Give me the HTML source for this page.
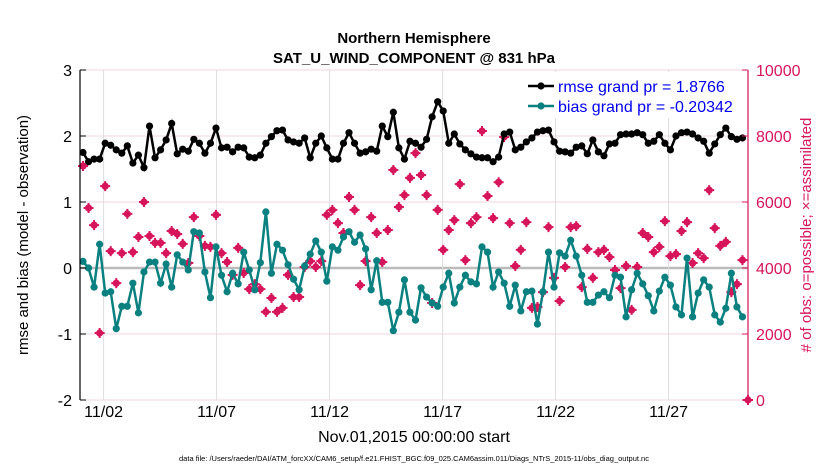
<!DOCTYPE html>
<html><head><meta charset="utf-8"><style>
body{margin:0;background:#fff;font-family:"Liberation Sans",sans-serif}
svg text{font-family:"Liberation Sans",sans-serif}
</style></head><body>
<svg id="chart" width="830" height="470" xmlns="http://www.w3.org/2000/svg">
<rect width="830" height="470" fill="#fff"/>
<g id="grid"></g><g id="marks"></g><g id="axes"></g>
</svg>
<script>
const rmse=[1.75,1.61,1.65,1.65,1.89,1.86,1.79,1.74,1.85,1.59,1.71,1.52,2.15,1.67,1.79,1.94,2.19,1.73,1.80,1.77,1.95,1.89,1.74,1.89,2.12,1.82,1.83,1.76,1.83,1.82,
1.68,1.67,1.71,1.89,1.99,2.08,2.09,1.94,1.91,1.89,1.97,1.67,1.89,2.0,1.82,1.65,1.65,1.89,2.05,1.89,1.74,1.76,1.80,1.77,2.15,1.99,2.36,1.82,1.65,1.92,
1.89,1.83,1.95,2.29,2.52,2.38,1.89,2.03,1.88,1.79,1.73,1.68,1.67,1.67,1.61,1.68,2.03,2.06,1.79,1.83,1.91,1.97,2.06,2.08,2.09,1.91,1.77,1.76,1.74,
1.83,1.85,1.73,1.94,1.76,1.70,1.88,1.89,2.02,2.03,2.03,2.05,2.02,1.89,1.92,2.02,1.89,1.79,2.0,2.05,2.06,2.03,1.97,1.92,1.74,1.88,2.02,2.12,1.99,1.95,1.97,null];
const bias=[0.10,0.0,-0.29,0.36,-0.38,-0.36,-0.92,-0.58,-0.58,-0.23,-0.68,-0.06,0.09,0.09,-0.23,0.06,-0.29,0.20,0.09,-0.03,0.55,0.53,-0.06,-0.45,0.32,-0.11,-0.36,-0.08,-0.24,0.24,
-0.03,-0.33,0.08,0.85,-0.08,0.36,0.27,0.05,-0.17,-0.33,0.03,0.21,0.41,0.24,-0.20,0.32,0.27,0.47,0.55,0.39,0.50,0.29,-0.33,0.11,-0.52,-0.52,-0.95,-0.67,-0.18,-0.67,
-0.79,-0.30,-0.44,-0.53,-0.58,-0.29,-0.08,-0.53,-0.29,-0.11,-0.21,-0.24,0.32,0.24,-0.29,-0.06,-0.23,-0.58,-0.26,-0.65,-0.36,-0.35,-0.85,-0.36,0.24,-0.29,0.23,0.18,0.42,
0.18,-0.11,-0.52,-0.52,-0.41,-0.36,-0.45,-0.11,-0.14,-0.74,-0.33,-0.08,-0.24,-0.42,-0.65,-0.35,-0.14,-0.26,-0.59,-0.71,0.15,-0.74,-0.38,-0.18,-0.29,-0.71,-0.82,-0.61,-0.08,-0.59,-0.74,null];
const nobs=[7090,5820,5300,2030,6480,4510,3540,4450,5640,4480,4940,6000,4970,4760,4760,4450,5120,5030,4730,4150,5540,4970,4670,4640,5610,4450,4180,3790,4610,3850,
3360,3510,3360,2670,3090,2670,2790,3790,3120,3120,4030,4210,4030,4210,5610,5760,5360,5060,6150,5760,3480,4210,5540,5060,4180,5150,6970,5850,6210,6730,
7480,6820,6210,2940,5760,4550,5150,5450,6540,4240,5360,5540,8150,6180,5510,6600,7970,5360,4060,4550,5390,2790,2820,3270,5240,3700,3000,4030,5240,
5270,3420,4580,3700,4480,4550,4330,3940,3390,4060,2730,4030,5060,4940,4480,4640,5420,4360,4420,5120,5390,4150,4450,4300,6360,5210,4670,4790,3270,3510,4240,0];
const leftTicks=[-2,-1,0,1,2,3];
const rightTicks=[0,2000,4000,6000,8000,10000];
const dateTicks=[1,6,11,16,21,26];
const dateLabels=["11/02","11/07","11/12","11/17","11/22","11/27"];

const NS="http://www.w3.org/2000/svg";
const L=80,R=748,T=70,B=400;
const yL=v=>B-(v+2)/5*(B-T);
const yR=v=>B-v/10000*(B-T);
const xDay=d=>81+d*22.6;
const xIdx=i=>83+i*(R-83)/(nobs.length-1);
function mk(tag,attrs,parent,text){const e=document.createElementNS(NS,tag);for(const k in attrs)e.setAttribute(k,attrs[k]);if(text!=null)e.textContent=text;parent.appendChild(e);return e;}
const grid=document.getElementById('grid'),marks=document.getElementById('marks'),axes=document.getElementById('axes');

leftTicks.forEach(v=>{
 const g=mk('line',{x1:L,x2:R,y1:yL(v),y2:yL(v),stroke:v===0?'#bbb':'#f2d5e0','stroke-width':v===0?2.5:1},grid);
 
 
 const t=mk('text',{x:L-8,y:yL(v)+6,'text-anchor':'end','font-size':16},axes,String(v));
 
 
 mk('line',{x1:L,x2:L+6,y1:yL(v),y2:yL(v),stroke:'#000'},axes);
});
rightTicks.forEach(v=>{
 const t=mk('text',{x:R+8,y:yR(v)+6,'font-size':16,fill:'#d6155a'},axes,String(v));
 
 
 mk('line',{x1:R-6,x2:R,y1:yR(v),y2:yR(v),stroke:'#d6155a'},axes);
});
dateTicks.forEach((d,i)=>{
 const g=mk('line',{x1:xDay(d),x2:xDay(d),y1:T,y2:B,stroke:'#ddd'},grid);
 
 
 const t=mk('text',{x:xDay(d),y:B+17,'text-anchor':'middle','font-size':16},axes,dateLabels[i]);
 
 
});
mk('line',{x1:L,x2:L,y1:T,y2:B,stroke:'#000','stroke-width':1.2},axes);
mk('line',{x1:R,x2:R,y1:T,y2:B,stroke:'#d6155a','stroke-width':1.2},axes);

// obs markers
nobs.forEach((v,i)=>{
 if(v==null)return;
 const g=mk('g',{},marks);
 
 
 const x=xIdx(i),y=yR(v);
 mk('circle',{cx:x,cy:y,r:3.6,fill:'#d6155a'},g);
 mk('path',{d:`M${x-5} ${y}H${x+5}M${x} ${y-5}V${y+5}`,stroke:'#d6155a','stroke-width':2},g);
});
function series(arr,color,name){
 let d='';arr.forEach((v,i)=>{if(v==null)return;d+=(d?'L':'M')+xIdx(i).toFixed(1)+' '+yL(v).toFixed(1);});
 const p=mk('path',{d:d,fill:'none',stroke:color,'stroke-width':2.5},marks);
 
 
 arr.forEach((v,i)=>{if(v==null)return;
  const c=mk('circle',{cx:xIdx(i),cy:yL(v),r:3.6,fill:color},marks);
  
  
 });
}
series(bias,'#0a8080','bias');
series(rmse,'#000','rmse');

// legend
const lg=mk('g',{},axes);


mk('rect',{x:524,y:72,width:220,height:46,fill:'#fff'},lg);
mk('line',{x1:528,x2:554,y1:86,y2:86,stroke:'#000','stroke-width':2.5},lg);
mk('circle',{cx:541,cy:86,r:3.6,fill:'#000'},lg);
const l1=mk('text',{x:558,y:92,'font-size':16,fill:'#0000ee'},lg,'rmse grand pr = 1.8766');


mk('line',{x1:528,x2:554,y1:106,y2:106,stroke:'#0a8080','stroke-width':2.5},lg);
mk('circle',{cx:541,cy:106,r:3.6,fill:'#0a8080'},lg);
const l2=mk('text',{x:558,y:112,'font-size':16,fill:'#0000ee'},lg,'bias grand pr = -0.20342');


</script>
<svg style="position:absolute;left:0;top:0" width="830" height="470" xmlns="http://www.w3.org/2000/svg">
<text x="414" y="43" text-anchor="middle" font-size="15" font-weight="bold">Northern Hemisphere</text>
<text x="414" y="63" text-anchor="middle" font-size="15" font-weight="bold">SAT_U_WIND_COMPONENT @ 831 hPa</text>
<text transform="translate(28,235) rotate(-90)" text-anchor="middle" font-size="15">rmse and bias (model - observation)</text>
<text transform="translate(811,235) rotate(-90)" text-anchor="middle" font-size="15" fill="#d6155a"># of obs: o=possible; ×=assimilated</text>
<text x="414" y="442" text-anchor="middle" font-size="16">Nov.01,2015 00:00:00 start</text>
<text x="414" y="461" text-anchor="middle" font-size="7.5">data file: /Users/raeder/DAI/ATM_forcXX/CAM6_setup/f.e21.FHIST_BGC.f09_025.CAM6assim.011/Diags_NTrS_2015-11/obs_diag_output.nc</text>
</svg>
</body></html>
